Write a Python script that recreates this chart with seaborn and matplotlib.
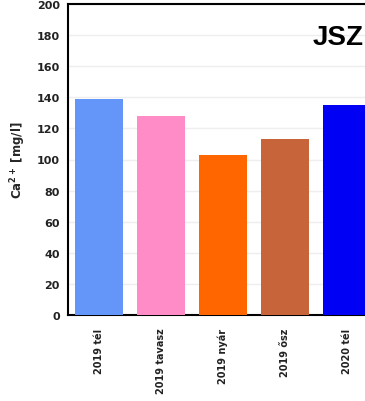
import matplotlib
matplotlib.use("Agg")
import matplotlib.pyplot as plt
import seaborn as sns
import pandas as pd
from matplotlib.ticker import MultipleLocator

seasons = ["2019 tél", "2019 tavasz", "2019 nyár", "2019 ősz", "2020 tél"]
calcium = [139, 128, 103, 113, 135]
colors = ["#6495F8", "#FF8CC6", "#FF6600", "#C8643A", "#0000F5"]

df = pd.DataFrame({"season": seasons, "ca": calcium})

sns.set_style("white")
plt.rcParams["font.family"] = ["DejaVu Sans"]

fig = plt.figure(figsize=(3.65, 4.02), dpi=100)
ax = fig.add_axes([68 / 365, 86 / 402, 310 / 365, 311 / 402])

sns.barplot(data=df, x="season", y="ca", hue="season", palette=colors,
            width=0.78, saturation=1, linewidth=0, legend=False, ax=ax,
            zorder=3)

ax.set_ylim(0, 200)
ax.set_xlim(-0.5, 4.5)
ax.yaxis.set_major_locator(MultipleLocator(20))
ax.yaxis.set_minor_locator(MultipleLocator(10))
ax.grid(axis="y", color="#eeeeee", linewidth=1, zorder=0)
ax.set_axisbelow(True)

for s in ax.spines.values():
    s.set_color("black")
    s.set_linewidth(1.5)

ax.tick_params(axis="y", which="major", direction="in", length=4, width=1.2,
               labelsize=8, pad=6)
ax.tick_params(axis="y", which="minor", direction="in", length=3, width=1.2)
ax.tick_params(axis="x", direction="out", length=4, width=1.2, labelsize=7,
               rotation=90, pad=5)
for lab in ax.get_yticklabels() + ax.get_xticklabels():
    lab.set_fontweight("bold")
    lab.set_color("#222222")

ax.set_xlabel("")
ax.set_ylabel("Ca$^{\\mathbf{2+}}$ [mg/l]", fontsize=8.5, fontweight="bold",
              labelpad=6)

fig.text(0.995, 0.905, "JSZ", ha="right", va="center", fontsize=20,
         fontweight="bold", family="Liberation Sans", color="black")

fig.savefig("out.png", dpi=100)
